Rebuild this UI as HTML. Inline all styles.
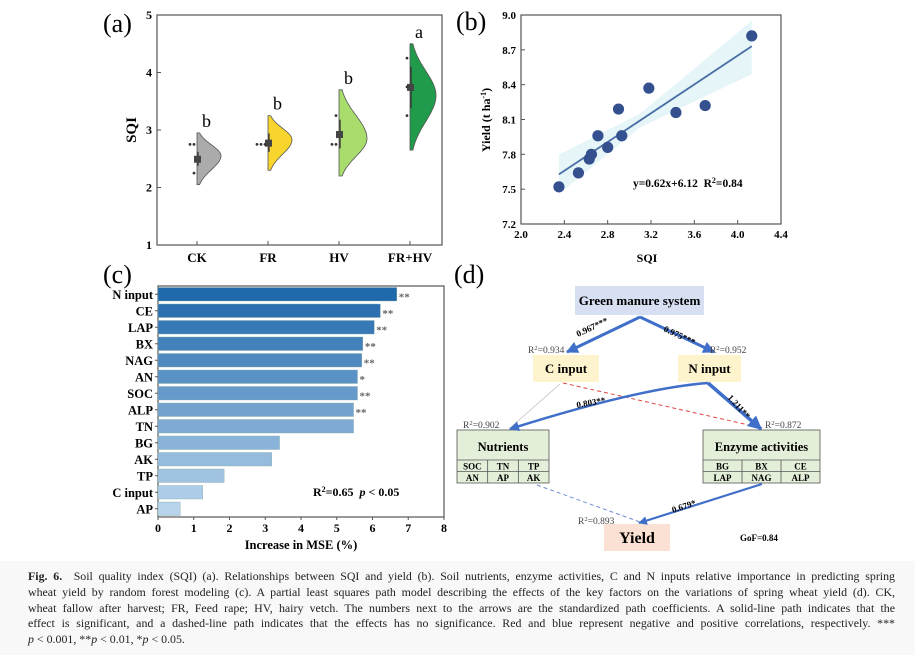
<!DOCTYPE html>
<html><head><meta charset="utf-8">
<style>
body{margin:0;width:915px;height:655px;background:#fff;overflow:hidden;position:relative;font-family:"Liberation Serif",serif}
svg{position:absolute;left:0;top:0}
.cap{position:absolute;left:0;top:561px;width:915px;height:94px;background:#f8f8f8}
.ln{position:absolute;left:28px;width:867px;font-size:11.9px;color:#222;white-space:nowrap;text-align:justify;text-align-last:justify;line-height:14px}
</style></head><body>
<svg id="fig" width="915" height="560" viewBox="0 0 915 560" font-family="Liberation Serif, serif"></svg>
<div class="cap">
<div class="ln" style="top:8px"><b>Fig. 6.</b>&nbsp; Soil quality index (SQI) (a). Relationships between SQI and yield (b). Soil nutrients, enzyme activities, C and N inputs relative importance in predicting spring</div>
<div class="ln" style="top:24px">wheat yield by random forest modeling (c). A partial least squares path model describing the effects of the key factors on the variations of spring wheat yield (d). CK,</div>
<div class="ln" style="top:40px">wheat fallow after harvest; FR, Feed rape; HV, hairy vetch. The numbers next to the arrows are the standardized path coefficients. A solid-line path indicates that the</div>
<div class="ln" style="top:55px">effect is significant, and a dashed-line path indicates that the effects has no significance. Red and blue represent negative and positive correlations, respectively. ***</div>
<div class="ln" style="top:71px;text-align-last:left"><i>p</i> &lt; 0.001, **<i>p</i> &lt; 0.01, *<i>p</i> &lt; 0.05.</div>
</div>
<script>
// ---- panel a data
const aCats=["CK","FR","HV","FR+HV"];
const aMin=[2.05,2.3,2.2,2.65];
const aMax=[2.95,3.25,3.7,4.5];
const aPeak=[2.55,2.83,2.85,3.6];
const aWidth=[24,24,28,26];
const aMean=[2.5,2.78,2.93,3.75];
const aSdLo=[2.38,2.62,2.68,3.38];
const aSdHi=[2.62,2.94,3.18,4.1];
const aPts=[[2.75,2.75,2.25],[2.75,2.75,2.75],[3.25,2.75,2.75],[4.25,3.75,3.25]];
const aLetters=["b","b","b","a"];
const aColors=["#ababab","#f7d52c","#a8dd6e","#1f9b4b"];
const aYTicks=[1,2,3,4,5];
// ---- panel b data
const bX=[2.35,2.53,2.63,2.65,2.71,2.8,2.9,2.93,3.18,3.43,3.7,4.13];
const bY=[7.52,7.64,7.76,7.8,7.96,7.86,8.19,7.96,8.37,8.16,8.22,8.82];
const bXTicks=[2.0,2.4,2.8,3.2,3.6,4.0,4.4];
const bYTicks=[7.2,7.5,7.8,8.1,8.4,8.7,9.0];
const bSlope=0.62, bIntercept=6.17;
// ---- panel c data
const cCats=["N input","CE","LAP","BX","NAG","AN","SOC","ALP","TN","BG","AK","TP","C input","AP"];
const cVals=[6.68,6.22,6.05,5.73,5.7,5.58,5.58,5.47,5.47,3.4,3.18,1.85,1.25,0.62];
const cSig=["**","**","**","**","**","*","**","**","","","","","",""];
const cTicks=[0,1,2,3,4,5,6,7,8];

const S=document.getElementById('fig');const NS='http://www.w3.org/2000/svg';
function el(t,a,p){const e=document.createElementNS(NS,t);for(const k in a)e.setAttribute(k,a[k]);(p||S).appendChild(e);return e;}
function tx(x,y,s,a){const e=el('text',Object.assign({x:x,y:y},a||{}));e.textContent=s;return e;}

// ===== Panel A
const aL=157,aR=442,aT=15,aB=245;
const ay=v=>aB-(v-1)/4*(aB-aT);
const ax=i=>197+i*71;
let t=tx(103,32,"(a)",{'font-size':26});


let fr=el('rect',{x:aL,y:aT,width:aR-aL,height:aB-aT,fill:'none',stroke:'#555','stroke-width':1.2});


aYTicks.forEach(v=>{el('line',{x1:aL,x2:aL+4,y1:ay(v),y2:ay(v),stroke:'#555'});
 const l=tx(aL-5,ay(v)+4,v,{'font-size':12,'font-weight':'bold','text-anchor':'end'});
 
 });
t=tx(0,0,"SQI",{'font-size':15,'font-weight':'bold','text-anchor':'middle',transform:'translate(136,130) rotate(-90)'});


aCats.forEach((c,i)=>{
 const cx=ax(i);
 el('line',{x1:cx,x2:cx,y1:aB,y2:aB-4,stroke:'#555'});
 const l=tx(cx,262,c,{'font-size':13,'font-weight':'bold','text-anchor':'middle'});
 
 
 let d=`M${cx},${ay(aMin[i])}`;const n=40;
 for(let k=0;k<=n;k++){const v=aMin[i]+(aMax[i]-aMin[i])*k/n;
  const sd=(v<aPeak[i]?(aPeak[i]-aMin[i]):(aMax[i]-aPeak[i]))/2.1;
  const w=aWidth[i]*Math.exp(-0.5*Math.pow((v-aPeak[i])/sd,2));
  d+=` L${(cx+w).toFixed(1)},${ay(v).toFixed(1)}`;}
 d+=` L${cx},${ay(aMax[i])} Z`;
 const p=el('path',{d:d,fill:aColors[i],stroke:'#555','stroke-width':0.8});
 
 
 el('line',{x1:cx+1,x2:cx+1,y1:ay(aSdLo[i]),y2:ay(aSdHi[i]),stroke:'#333','stroke-width':1.3});
 const m=el('rect',{x:cx-3,y:ay(aMean[i])-3,width:7,height:7,fill:'#444'});
 
 
 const cnt={};aPts[i].forEach(v=>{cnt[v]=(cnt[v]||0)+1;const px=cx-3-(cnt[v]-1)*4;
  const q=el('circle',{cx:px,cy:ay(v),r:1.4,fill:'#333'});
  
  });
 const lt=tx(cx+5,ay(aMax[i])-6,aLetters[i],{'font-size':18});
 
 
});

// ===== Panel B
const bL=521,bR=781,bT=15,bB=224;
const bx=v=>bL+(v-2)/2.4*(bR-bL), by=v=>bB-(v-7.2)/1.8*(bB-bT);
t=tx(456,30,"(b)",{'font-size':26});


const xs0=bX[0],xs1=bX[bX.length-1];
const band=`M${bx(xs0)},${by(bSlope*xs0+bIntercept+0.17)} L${bx(3.1)},${by(bSlope*3.1+bIntercept+0.06)} L${bx(xs1)},${by(bSlope*xs1+bIntercept+0.22)} L${bx(xs1)},${by(bSlope*xs1+bIntercept-0.24)} L${bx(3.1)},${by(bSlope*3.1+bIntercept-0.06)} L${bx(xs0)},${by(bSlope*xs0+bIntercept-0.17)} Z`;
let bd=el('path',{d:band,fill:'#e6f5f8'});


fr=el('rect',{x:bL,y:bT,width:bR-bL,height:bB-bT,fill:'none',stroke:'#555','stroke-width':1.2});


let rl=el('line',{x1:bx(xs0),y1:by(bSlope*xs0+bIntercept),x2:bx(xs1),y2:by(bSlope*xs1+bIntercept),stroke:'#4a6fa5','stroke-width':1.8});


bX.forEach((v,i)=>{const c=el('circle',{cx:bx(v),cy:by(bY[i]),r:5.6,fill:'#34508f'});
 
 });
bXTicks.forEach(v=>{el('line',{x1:bx(v),x2:bx(v),y1:bB,y2:bB-4,stroke:'#555'});
 const l=tx(bx(v),238,v.toFixed(1),{'font-size':11,'font-weight':'bold','text-anchor':'middle'});
 
 });
bYTicks.forEach(v=>{el('line',{x1:bL,x2:bL+4,y1:by(v),y2:by(v),stroke:'#555'});
 const l=tx(bL-5,by(v)+4,v.toFixed(1),{'font-size':11,'font-weight':'bold','text-anchor':'end'});
 
 });
t=tx(647,262,"SQI",{'font-size':12,'font-weight':'bold','text-anchor':'middle'});


t=el('text',{x:0,y:0,'font-size':12,'font-weight':'bold','text-anchor':'middle',transform:'translate(490,120) rotate(-90)'});
t.innerHTML='Yield (t ha<tspan dy="-4" font-size="8">-1</tspan><tspan dy="4">)</tspan>';


t=el('text',{x:633,y:187,'font-size':11.5,'font-weight':'bold'});
t.innerHTML='y=0.62x+6.12&#160;&#160;R<tspan dy="-4" font-size="8">2</tspan><tspan dy="4">=0.84</tspan>';



// ===== Panel C
const cL=158,cR=444,cT=286,cB=517;
const cx_=v=>cL+v/8*(cR-cL);const bh=(cB-cT)/cCats.length;
t=tx(103,283,"(c)",{'font-size':26});


fr=el('rect',{x:cL,y:cT,width:cR-cL,height:cB-cT,fill:'none',stroke:'#555','stroke-width':1.2});


function mix(a,b,f){return 'rgb('+a.map((v,k)=>Math.round(v+(b[k]-v)*f)).join(',')+')';}
cCats.forEach((c,i)=>{const y=cT+i*bh;
 const r=el('rect',{x:cL,y:y+1.5,width:cx_(cVals[i])-cL,height:bh-3,fill:mix([32,104,172],[184,212,236],i/(cCats.length-1)),stroke:'#8aa',"stroke-width":0.4});
 
 
 el('line',{x1:cL-3,x2:cL,y1:y+bh/2,y2:y+bh/2,stroke:'#555'});
 const l=tx(cL-5,y+bh/2+4.5,c,{'font-size':12.5,'font-weight':'bold','text-anchor':'end'});
 
 
 if(cSig[i]){const s=tx(cx_(cVals[i])+2,y+bh/2+6,cSig[i],{'font-size':11,fill:'#666','font-weight':'bold'});
  
  }
});
cTicks.forEach(v=>{el('line',{x1:cx_(v),x2:cx_(v),y1:cB,y2:cB+3,stroke:'#555'});
 const l=tx(cx_(v),532,v,{'font-size':12,'font-weight':'bold','text-anchor':'middle'});
 
 });
t=tx(301,549,"Increase in MSE (%)",{'font-size':12.5,'font-weight':'bold','text-anchor':'middle'});


t=el('text',{x:313,y:496,'font-size':12,'font-weight':'bold'});
t.innerHTML='R<tspan dy="-4" font-size="8">2</tspan><tspan dy="4">=0.65&#160;&#160;</tspan><tspan font-style="italic">p</tspan> &lt; 0.05';



// ===== Panel D
t=tx(454,283,"(d)",{'font-size':26});


const defs=el('defs',{});
const mk=el('marker',{id:'ah',viewBox:'0 0 10 10',refX:9,refY:5,markerWidth:4,markerHeight:4,orient:'auto'},defs);
el('path',{d:'M0,0 L10,5 L0,10 Z',fill:'#3f6fc9'},mk);
function box(x,y,w,h,fill,label,size,name){const g=el('g',{});
 
 
 el('rect',{x:x,y:y,width:w,height:h,fill:fill},g);
 const q=tx(x+w/2,y+h/2+size*0.35,label,{'font-size':size,'font-weight':'bold','text-anchor':'middle'});
 g.appendChild(q);return g;}
box(575,286,129,29,'#d7dff3',"Green manure system",13,'green-manure-system-box');
box(533,355,66,27,'#fdf3cc',"C input",13,'c-input-box');
box(678,355,63,27,'#fdf3cc',"N input",13,'n-input-box');
box(604,524,66,27,'#fbe1d3',"Yield",16,'yield-box');
function tbl(x,y,w,title,cells,name){const g=el('g',{});
 
 
 el('rect',{x:x,y:y,width:w,height:53,fill:'#e4efd9',stroke:'#555','stroke-width':0.8},g);
 const tt=tx(x+w/2,y+21,title,{'font-size':12.5,'font-weight':'bold','text-anchor':'middle'});g.appendChild(tt);
 el('line',{x1:x,x2:x+w,y1:y+30,y2:y+30,stroke:'#555','stroke-width':0.8},g);
 el('line',{x1:x,x2:x+w,y1:y+41.5,y2:y+41.5,stroke:'#555','stroke-width':0.8},g);
 for(let k=1;k<3;k++)el('line',{x1:x+w*k/3,x2:x+w*k/3,y1:y+30,y2:y+53,stroke:'#555','stroke-width':0.8},g);
 cells.forEach((c,k)=>{const q=tx(x+w*(k%3+0.5)/3,y+39.5+Math.floor(k/3)*11.5,c,{'font-size':9,'font-weight':'bold','text-anchor':'middle'});g.appendChild(q);});}
tbl(457,430,92,"Nutrients",["SOC","TN","TP","AN","AP","AK"],'nutrients-table');
tbl(703,430,117,"Enzyme activities",["BG","BX","CE","LAP","NAG","ALP"],'enzyme-activities-table');
function path(d,st,w,dash,name,arrow){const p=el('path',{d:d,fill:'none',stroke:st,'stroke-width':w});
 if(dash)p.setAttribute('stroke-dasharray',dash);if(arrow)p.setAttribute('marker-end','url(#ah)');
 
 }
path('M640,317 L567,352','#3f6fc9',3,null,'path-gms-to-c-input',true);
path('M640,317 L714,352','#3f6fc9',3,null,'path-gms-to-n-input',true);
path('M563,383 L762,428','#e04545',1,'4,3','path-c-input-to-enzyme',false);
path('M560,384 L510,428','#bbb',0.7,null,'path-c-input-to-nutrients',false);
path('M708,383 Q640,388 510,429','#3f6fc9',2.5,null,'path-n-input-to-nutrients',true);
path('M708,383 L761,429','#3f6fc9',3.5,null,'path-n-input-to-enzyme',true);
path('M537,485 L640,522','#6d8fd0',1,'4,3','path-nutrients-to-yield',false);
path('M762,484 L639,523','#3f6fc9',2.2,null,'path-enzyme-to-yield',true);
const labs=[[578,337,-25,"0.967***"],[663,331,25,"0.975***"],[577,408,-10,"0.803**"],[727,398,48,"1.211**"],[673,513,-18,"0.679*"]];
labs.forEach(l=>{const q=tx(l[0],l[1],l[3],{'font-size':9,'font-weight':'bold',transform:`rotate(${l[2]} ${l[0]} ${l[1]})`});
 
 });
const r2=[[528,353,"0.934"],[710,353,"0.952"],[463,428,"0.902"],[765,428,"0.872"],[578,524,"0.893"]];
r2.forEach(r=>{const q=el('text',{x:r[0],y:r[1],'font-size':9.5,fill:'#444'});
 q.innerHTML='R<tspan dy="-3" font-size="6.5">2</tspan><tspan dy="3">='+r[2]+'</tspan>';
 
 });
t=tx(740,541,"GoF=0.84",{'font-size':9,'font-weight':'bold'});


</script>
</body></html>
